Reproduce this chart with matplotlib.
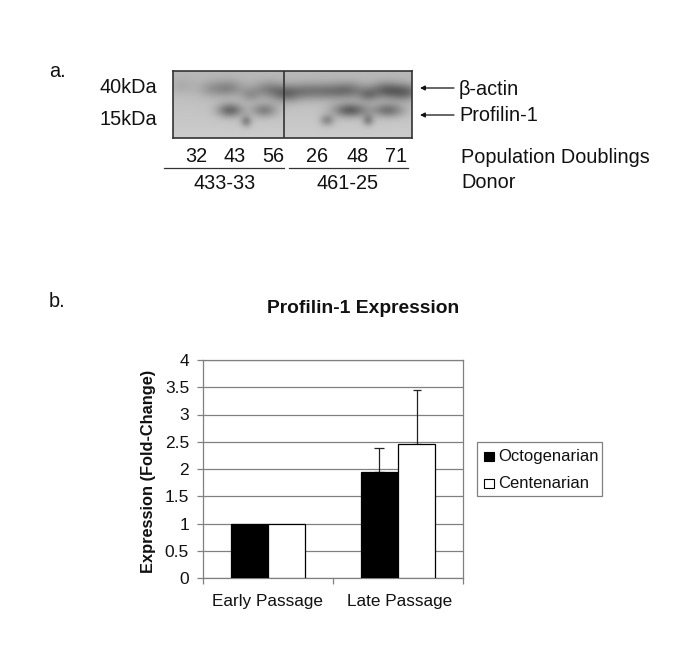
import numpy as np
import matplotlib
matplotlib.use("Agg")
import matplotlib.pyplot as plt
from matplotlib.patches import Rectangle

plt.rcParams['font.family'] = ['Liberation Sans', 'DejaVu Sans']

W, H = 685, 660

# chart b data
groups = ["Early Passage", "Late Passage"]
octogenarian = [1.0, 1.95]
centenarian = [1.0, 2.45]
octo_err = [0, 0.43]
cent_err = [0, 1.0]
y_ticks = [0, 0.5, 1, 1.5, 2, 2.5, 3, 3.5, 4]
y_labels = ["0", "0.5", "1", "1.5", "2", "2.5", "3", "3.5", "4"]

# blot a labels
doublings = ["32", "43", "56", "26", "48", "71"]
doubling_x = [196, 235, 273, 317, 358, 396]
donors = ["433-33", "461-25"]

# blot bands, picture pixels: x, y, sigma x, sigma y, darkness
bands_x = [182, 210, 228, 250, 268, 285, 305, 330, 350, 368, 385, 405, 230, 264, 246, 327, 350, 388, 368]
bands_y = [86, 89, 88, 95, 89, 94, 91, 91, 90, 95, 90, 92, 110, 110, 121, 120, 110, 110, 120]
bands_sx = [10, 9, 11, 7, 11, 10, 13, 13, 11, 7, 11, 11, 9, 9, 4, 5, 12, 11, 4]
bands_sy = [6, 6, 6, 5, 6, 6, 6, 6, 6, 5, 6, 6, 5, 5, 4, 4, 5, 5, 4]
bands_amp = [.06, .10, .20, .14, .20, .24, .22, .22, .22, .20, .30, .30, .34, .25, .24, .22, .38, .30, .24]


def px(x, y):
    return x / W, 1 - y / H


fig = plt.figure(figsize=(W / 100, H / 100), dpi=100)

# western blot as a picture
bx0, bx1, by0, by1 = 173, 412, 71, 138
ax_blot = fig.add_axes([bx0 / W, 1 - by1 / H, (bx1 - bx0) / W, (by1 - by0) / H])
xx, yy = np.meshgrid(np.arange(bx0, bx1, 0.5), np.arange(by0, by1, 0.5))
blot = 0.72 + 0.08 * (yy - by0) / (by1 - by0)
for x0, y0, sx, sy, amp in zip(bands_x, bands_y, bands_sx, bands_sy, bands_amp):
    blot -= amp * np.exp(-(xx - x0) ** 2 / (2 * sx ** 2) - (yy - y0) ** 2 / (2 * sy ** 2))
ax_blot.imshow(blot, cmap="gray", vmin=0, vmax=1, aspect="auto", extent=[bx0, bx1, by1, by0])
ax_blot.axvline(284, color="#333333", lw=1.2)
ax_blot.set_xticks([])
ax_blot.set_yticks([])
for s in ax_blot.spines.values():
    s.set_color("#333333")
    s.set_linewidth(1.2)


def label(x, y, s, ha="left", size=14.3, **kw):
    fx, fy = px(x, y + 1.5)
    fig.text(fx, fy, s, ha=ha, va="center", fontsize=size, color="#111111", **kw)


label(49, 70, "a.")
label(49, 300, "b.")
label(100, 86, "40kDa")
label(100, 118, "15kDa")
label(459, 88, "β-actin")
label(459, 114, "Profilin-1")
label(461, 156, "Population Doublings")
label(461, 181, "Donor")
for x, s in zip(doubling_x, doublings):
    label(x, 155, s, ha="center")
label(225, 182, donors[0], ha="center")
label(348, 182, donors[1], ha="center")

for x0, x1 in [(164, 284), (289, 408)]:
    fig.add_artist(plt.Line2D([x0 / W, x1 / W], [1 - 168 / H] * 2, color="#333333", lw=0.9))
for y in [88, 115]:
    fig.add_artist(matplotlib.patches.FancyArrowPatch(px(454, y), px(420, y), transform=fig.transFigure,
                                                      arrowstyle="-|>", mutation_scale=7, lw=0.9,
                                                      color="#111111", shrinkA=0, shrinkB=0))

# bar chart
ax = fig.add_axes([203 / W, 1 - 578 / H, 260 / W, 218 / H])
x = np.arange(len(groups)) + 0.5
width = 0.288
ax.bar(x - width / 2, octogenarian, width, color="black", edgecolor="black", lw=0.9, zorder=3, label="Octogenarian")
ax.bar(x + width / 2, centenarian, width, color="white", edgecolor="black", lw=0.9, zorder=3, label="Centenarian")
late = [1]
ax.errorbar(x[late] - width / 2, [octogenarian[i] for i in late], yerr=[[0], [octo_err[1]]], fmt="none",
            ecolor="#222222", elinewidth=0.9, capsize=3.6, capthick=0.9, zorder=2)
ax.errorbar(x[late] + width / 2, [centenarian[i] for i in late], yerr=[[0], [cent_err[1]]], fmt="none",
            ecolor="#222222", elinewidth=0.9, capsize=3.0, capthick=0.9, zorder=2)
ax.set_xlim(0, 2)
ax.set_ylim(0, 4)
ax.set_yticks(y_ticks)
ax.set_yticklabels(y_labels, fontsize=12.5, color="#111111")
ax.set_xticks([0, 1, 2])
ax.set_xticklabels([])
ax.tick_params(axis="y", length=4, width=0.9, color="#808080", pad=6)
ax.tick_params(axis="x", length=4, width=0.9, color="#808080")
ax.grid(True, axis="y", color="#808080", lw=0.9, zorder=0)
ax.set_axisbelow(True)
for s in ax.spines.values():
    s.set_color("#808080")
    s.set_linewidth(0.9)
for gx, g in zip(x, groups):
    ax.annotate(g, (gx, 0), xytext=(1 if gx > 1 else 0, -17), xycoords=("data", "axes fraction"),
                textcoords="offset points", ha="center", va="center", fontsize=12.3, color="#111111")

label(363, 307, "Profilin-1 Expression", ha="center", size=13.9, fontweight="bold")
fx, fy = px(149, 471)
fig.text(fx, fy, "Expression (Fold-Change)", rotation=90, ha="center", va="center", fontsize=11.8,
         fontweight="bold", color="#111111")

# legend box
fig.add_artist(Rectangle((477 / W, 1 - 496 / H), 125 / W, 54 / H, transform=fig.transFigure,
                         facecolor="white", edgecolor="#808080", lw=0.9))
for yy_leg, col, s in [(456, "black", "Octogenarian"), (483, "white", "Centenarian")]:
    fig.add_artist(Rectangle((484 / W, 1 - (yy_leg + 5) / H), 9.5 / W, 9.5 / H, transform=fig.transFigure,
                             facecolor=col, edgecolor="black", lw=0.8))
    label(498, yy_leg - 1, s, size=12)

fig.savefig("out.png", dpi=100)
